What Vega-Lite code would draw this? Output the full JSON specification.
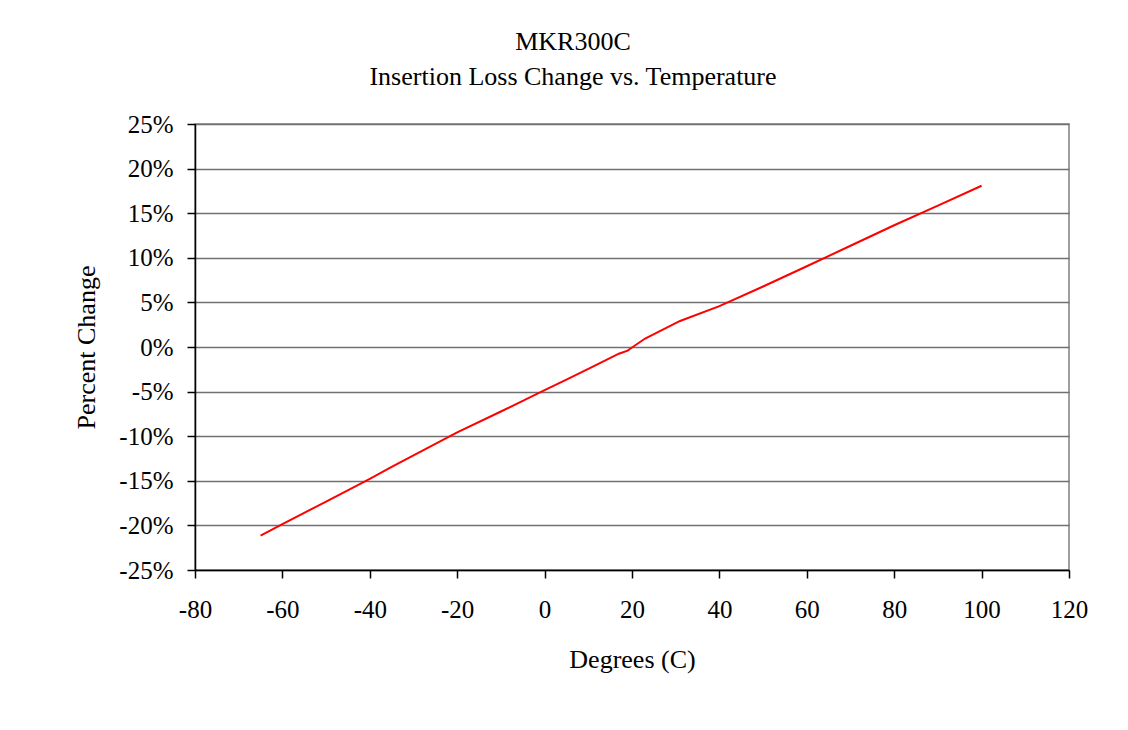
{
  "$schema": "https://vega.github.io/schema/vega-lite/v6.json",
  "autosize": "none",
  "width": 874,
  "height": 446,
  "padding": {"left": 195, "top": 124, "right": 59, "bottom": 160},
  "background": "white",
  "title": {
    "text": ["MKR300C", "Insertion Loss Change vs. Temperature"],
    "font": "Liberation Serif",
    "fontSize": 26,
    "fontWeight": "normal",
    "color": "black",
    "lineHeight": 35,
    "anchor": "middle",
    "dx": -59,
    "offset": 22
  },
  "data": {
    "values": [
      {"deg": -65, "pct": -0.2115},
      {"deg": -60, "pct": -0.1985},
      {"deg": -50, "pct": -0.1733},
      {"deg": -40, "pct": -0.1478},
      {"deg": -35, "pct": -0.1345},
      {"deg": -30, "pct": -0.1215},
      {"deg": -20, "pct": -0.0958},
      {"deg": -10, "pct": -0.0723},
      {"deg": -5, "pct": -0.0605},
      {"deg": 0, "pct": -0.0484},
      {"deg": 5, "pct": -0.0365},
      {"deg": 10, "pct": -0.0245},
      {"deg": 17, "pct": -0.0075},
      {"deg": 19, "pct": -0.004},
      {"deg": 20, "pct": -0.0005},
      {"deg": 23, "pct": 0.0095},
      {"deg": 31, "pct": 0.0292},
      {"deg": 40, "pct": 0.0458},
      {"deg": 50, "pct": 0.0678},
      {"deg": 60, "pct": 0.0905},
      {"deg": 70, "pct": 0.1135},
      {"deg": 80, "pct": 0.1365},
      {"deg": 90, "pct": 0.1585},
      {"deg": 100, "pct": 0.1808}
    ]
  },
  "mark": {"type": "line", "color": "#ff0000", "strokeWidth": 2},
  "encoding": {
    "x": {
      "field": "deg",
      "type": "quantitative",
      "scale": {"domain": [-80, 120], "nice": false, "zero": false},
      "axis": {
        "values": [-80, -60, -40, -20, 0, 20, 40, 60, 80, 100, 120],
        "labelExpr": "'' + datum.value",
        "title": "Degrees (C)",
        "grid": false,
        "labelPadding": 19,
        "titlePadding": 24
      }
    },
    "y": {
      "field": "pct",
      "type": "quantitative",
      "scale": {"domain": [-0.25, 0.25], "nice": false, "zero": false},
      "axis": {
        "values": [-0.25, -0.2, -0.15, -0.1, -0.05, 0, 0.05, 0.1, 0.15, 0.2, 0.25],
        "labelExpr": "round(datum.value * 100) + '%'",
        "title": "Percent Change",
        "grid": true,
        "labelPadding": 14,
        "titlePadding": 19
      }
    }
  },
  "config": {
    "view": {"stroke": "#808080", "strokeWidth": 1.5},
    "axis": {
      "labelFont": "Liberation Serif",
      "labelFontSize": 25,
      "labelColor": "black",
      "titleFont": "Liberation Serif",
      "titleFontSize": 26,
      "titleFontWeight": "normal",
      "titleColor": "black",
      "domainColor": "black",
      "domainWidth": 1.5,
      "tickColor": "black",
      "tickSize": 8,
      "tickWidth": 1.5,
      "gridColor": "#707070",
      "gridWidth": 1.5,
      "labelFlush": false,
      "labelOverlap": false
    }
  }
}
